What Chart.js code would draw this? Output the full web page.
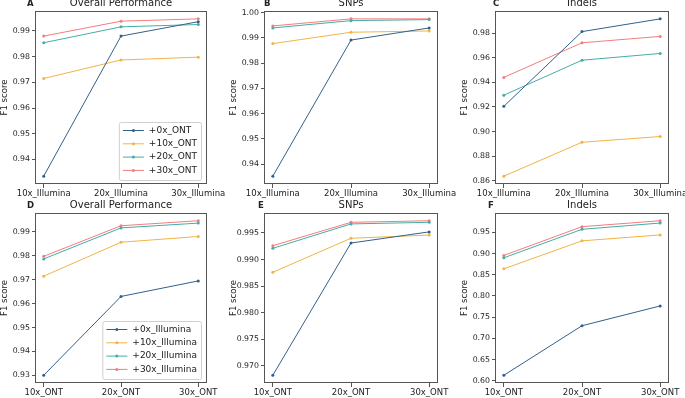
<!DOCTYPE html>
<html>
<head>
<meta charset="utf-8">
<script src="https://cdn.jsdelivr.net/npm/chart.js@4.4.1/dist/chart.umd.min.js"></script>
<style>
html, body { margin: 0; padding: 0; background: #fff; }
#wrap { position: relative; width: 685px; height: 398px; overflow: hidden; }
canvas { position: absolute; }
</style>
</head>
<body>
<div id="wrap"></div>
<script>
const illuminaCats = ["10x_Illumina", "20x_Illumina", "30x_Illumina"];
const ontCats = ["10x_ONT", "20x_ONT", "30x_ONT"];
const ontSeries = ["+0x_ONT", "+10x_ONT", "+20x_ONT", "+30x_ONT"];
const illuminaSeries = ["+0x_Illumina", "+10x_Illumina", "+20x_Illumina", "+30x_Illumina"];

// F1 scores, one row per series (added coverage), one value per category
const overallTop = [
  [0.9335, 0.9880, 0.9936],
  [0.9715, 0.9787, 0.9798],
  [0.9854, 0.9916, 0.9925],
  [0.9880, 0.9938, 0.9947]
];
const snpsTop = [
  [0.9352, 0.9891, 0.9939],
  [0.9877, 0.9922, 0.9927],
  [0.9939, 0.9968, 0.9972],
  [0.9947, 0.9975, 0.9975]
];
const indelsTop = [
  [0.9205, 0.9814, 0.9918],
  [0.8636, 0.8912, 0.8959],
  [0.9296, 0.9581, 0.9636],
  [0.9441, 0.9723, 0.9775]
];
const overallBottom = [
  [0.9300, 0.9630, 0.9695],
  [0.9715, 0.9857, 0.9881],
  [0.9787, 0.9917, 0.9937],
  [0.9798, 0.9926, 0.9947]
];
const snpsBottom = [
  [0.9682, 0.9931, 0.9952],
  [0.9876, 0.9940, 0.9946],
  [0.9921, 0.9967, 0.9970],
  [0.9926, 0.9970, 0.9973]
];
const indelsBottom = [
  [0.6132, 0.7299, 0.7765],
  [0.8640, 0.9298, 0.9438],
  [0.8899, 0.9570, 0.9718],
  [0.8955, 0.9632, 0.9772]
];

const ticksA = ["0.94", "0.95", "0.96", "0.97", "0.98", "0.99"];
const ticksB = ["0.94", "0.95", "0.96", "0.97", "0.98", "0.99", "1.00"];
const ticksC = ["0.86", "0.88", "0.90", "0.92", "0.94", "0.96", "0.98"];
const ticksD = ["0.93", "0.94", "0.95", "0.96", "0.97", "0.98", "0.99"];
const ticksE = ["0.970", "0.975", "0.980", "0.985", "0.990", "0.995"];
const ticksF = ["0.60", "0.65", "0.70", "0.75", "0.80", "0.85", "0.90", "0.95"];

const colors = ["#33608a", "#f2b446", "#45ada5", "#f47c7c"];

Chart.defaults.font.family = '"DejaVu Sans", sans-serif';
Chart.defaults.color = "#222";

const frame = {
  id: "frame",
  afterDatasetsDraw(chart, args, o) {
    const ctx = chart.ctx, a = chart.chartArea;
    ctx.save();
    ctx.strokeStyle = "#555";
    ctx.lineWidth = 1;
    ctx.strokeRect(Math.round(a.left) - 0.5, Math.round(a.top) + 0.5,
      Math.round(a.right - a.left) + 1, Math.round(a.bottom - a.top) - 1);
    ctx.fillStyle = "#222";
    ctx.textBaseline = "middle";
    ctx.textAlign = "center";
    ctx.font = '10px "DejaVu Sans"';
    ctx.fillText(o.title, (a.left + a.right) / 2, a.top - 7.5);
    ctx.textAlign = "left";
    ctx.font = 'bold 8.5px "DejaVu Sans"';
    ctx.fillText(o.letter, o.letterX, a.top - 7);
    ctx.restore();
  }
};

const boxLegend = {
  id: "boxLegend",
  afterDraw(chart, args, o) {
    if (!o.show) return;
    const ctx = chart.ctx, a = chart.chartArea;
    const sets = chart.data.datasets;
    ctx.save();
    ctx.font = '9px "DejaVu Sans"';
    const tw = Math.max(...sets.map(d => ctx.measureText(d.label).width));
    const w = 30 + tw + 4, rowH = 13.3, h = 58;
    const x = a.right - 5 - w, y = a.bottom - 4 - h;
    ctx.beginPath();
    ctx.roundRect(x + 0.5, y + 0.5, w, h, 2);
    ctx.fillStyle = "rgba(255,255,255,0.8)";
    ctx.fill();
    ctx.strokeStyle = "#d0d0d0";
    ctx.lineWidth = 1;
    ctx.stroke();
    sets.forEach((d, i) => {
      const cy = y + 8.5 + i * rowH;
      ctx.strokeStyle = d.borderColor;
      ctx.beginPath();
      ctx.moveTo(x + 4, cy);
      ctx.lineTo(x + 25, cy);
      ctx.stroke();
      ctx.fillStyle = d.borderColor;
      ctx.beginPath();
      ctx.arc(x + 14.5, cy, 1.5, 0, Math.PI * 2);
      ctx.fill();
      ctx.fillStyle = "#222";
      ctx.textBaseline = "middle";
      ctx.fillText(d.label, x + 30, cy);
    });
    ctx.restore();
  }
};

const panels = [
  { letter: "A", title: "Overall Performance", cats: illuminaCats, names: ontSeries, values: overallTop, ticks: ticksA, box: [36, 11, 206, 184], rowTop: 0, rowH: 198, letterX: 27, legend: true },
  { letter: "B", title: "SNPs", cats: illuminaCats, names: ontSeries, values: snpsTop, ticks: ticksB, box: [265, 11, 437, 184], rowTop: 0, rowH: 198, letterX: 264, legend: false },
  { letter: "C", title: "Indels", cats: illuminaCats, names: ontSeries, values: indelsTop, ticks: ticksC, box: [496, 11, 668, 184], rowTop: 0, rowH: 198, letterX: 493, legend: false },
  { letter: "D", title: "Overall Performance", cats: ontCats, names: illuminaSeries, values: overallBottom, ticks: ticksD, box: [36, 213, 206, 383], rowTop: 198, rowH: 200, letterX: 27, legend: true },
  { letter: "E", title: "SNPs", cats: ontCats, names: illuminaSeries, values: snpsBottom, ticks: ticksE, box: [265, 213, 437, 383], rowTop: 198, rowH: 200, letterX: 258, legend: false },
  { letter: "F", title: "Indels", cats: ontCats, names: illuminaSeries, values: indelsBottom, ticks: ticksF, box: [496, 213, 668, 383], rowTop: 198, rowH: 200, letterX: 488, legend: false }
];

const wrap = document.getElementById("wrap");

function makeChart(p) {
  const [L, T, R, B] = p.box;
  const left = L - 36, width = R - left + 26, height = p.rowH;
  const cv = document.createElement("canvas");
  cv.width = width;
  cv.height = height;
  cv.style.left = left + "px";
  cv.style.top = p.rowTop + "px";
  cv.style.width = width + "px";
  cv.style.height = height + "px";
  wrap.appendChild(cv);

  const all = p.values.flat();
  const lo = Math.min(...all), hi = Math.max(...all), m = (hi - lo) * 0.05;
  const tickVals = p.ticks.map(Number);

  new Chart(cv, {
    type: "line",
    data: {
      datasets: p.values.map((row, i) => ({
        label: p.names[i],
        data: row.map((v, j) => ({ x: j, y: v })),
        borderColor: colors[i],
        backgroundColor: colors[i],
        borderWidth: 1,
        pointRadius: 1.5,
        pointHoverRadius: 1.5,
        pointBorderWidth: 0
      }))
    },
    plugins: [frame, boxLegend],
    options: {
      responsive: false,
      animation: false,
      devicePixelRatio: 1,
      layout: { padding: { top: T - p.rowTop, right: 26, left: 0, bottom: 0 } },
      plugins: {
        legend: { display: false },
        tooltip: { enabled: false },
        frame: { title: p.title, letter: p.letter, letterX: p.letterX - left },
        boxLegend: { show: p.legend }
      },
      scales: {
        x: {
          type: "linear",
          min: -0.1,
          max: 2.1,
          afterBuildTicks: s => { s.ticks = p.cats.map((c, i) => ({ value: i })); },
          afterFit: s => { s.height = height - (B - p.rowTop); },
          ticks: { callback: v => p.cats[v], autoSkip: false, maxRotation: 0, padding: 1, font: { size: 8.5 } },
          grid: { drawOnChartArea: false, drawTicks: true, tickLength: 4, color: "#555" },
          border: { display: false }
        },
        y: {
          min: lo - m,
          max: hi + m,
          afterBuildTicks: s => { s.ticks = tickVals.map(v => ({ value: v })); },
          afterFit: s => { s.width = 36; },
          ticks: { callback: (v, i) => p.ticks[i], padding: 2, font: { size: 7.8 } },
          grid: { drawOnChartArea: false, drawTicks: true, tickLength: 4, color: "#555" },
          border: { display: false },
          title: { display: true, text: "F1 score", font: { size: 8.5 }, padding: { top: 0, bottom: 0 } }
        }
      }
    }
  });
}

panels.forEach(makeChart);
</script>
</body>
</html>
